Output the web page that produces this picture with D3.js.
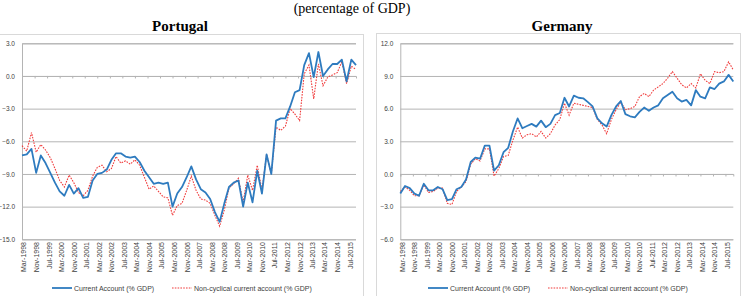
<!DOCTYPE html>
<html>
<head>
<meta charset="utf-8">
<script src="https://cdn.jsdelivr.net/npm/d3@7"></script>
<style>
  body { margin: 0; background: #fff; }
  svg { display: block; }
</style>
</head>
<body>
<svg id="chart" width="742" height="296"></svg>
<script>
// quarterly observations, Mar-1998 .. Dec-2015
var firstQuarter = new Date(1998, 2, 1),
  lastQuarter = new Date(2015, 11, 1);
var quarters = d3.timeMonth.range(firstQuarter, new Date(2016, 0, 1), 3);

// axis labels every 8 months, Mar-1998 .. Jul-2015
var xTicks = d3.timeMonth.range(firstQuarter, new Date(2015, 7, 1), 8);

var portugalTicks = [-15, -12, -9, -6, -3, 0, 3];
var germanyTicks = [-6, -3, 0, 3, 6, 9, 12];

var seriesNames = ["Current Account (% GDP)", "Non-cyclical current account  (% GDP)"];

var portugalCA = [
  -7.3, -7.2, -6.7, -8.9, -7.3, -8.0, -8.9, -9.8, -10.6, -11.0,
  -10.0, -10.8, -10.3, -11.2, -11.1, -9.6, -9.0, -8.9, -8.6, -7.7,
  -7.1, -7.1, -7.4, -7.5, -7.4, -7.9, -8.7, -9.3, -9.9, -9.8,
  -9.9, -9.8, -12.0, -10.8, -10.2, -9.3, -8.3, -9.5, -10.4, -10.7,
  -11.3, -12.5, -13.4, -11.7, -10.2, -9.8, -9.6, -12.0, -9.8, -11.6,
  -8.7, -10.8, -7.2, -9.0, -4.1, -3.9, -3.9, -2.8, -1.5, -1.3,
  1.0, 2.1, -0.1, 2.2, 0.0, 0.6, 1.1, 1.1, 1.5, -0.5,
  1.5, 1.0
];
var portugalNC = [
  -6.4, -6.9, -5.2, -7.0, -6.3, -6.8, -7.5, -8.5, -9.6, -10.2,
  -9.1, -9.8, -10.7, -11.0, -10.5, -9.2, -8.4, -8.2, -8.8, -8.5,
  -7.4, -8.0, -7.8, -8.1, -7.7, -8.2, -9.3, -10.4, -10.1, -10.6,
  -11.1, -11.2, -12.8, -11.9, -11.7, -10.5, -9.2, -10.5, -11.3, -11.4,
  -11.7, -12.8, -13.8, -12.3, -10.3, -9.9, -9.4, -11.6, -9.1, -10.5,
  -8.2, -10.5, -7.2, -9.0, -4.7, -5.0, -4.6, -3.0, -3.5, -4.1,
  0.2, 1.0, -2.1, 1.1, -0.9, -0.1, 0.1, 0.3, 1.3, -0.7,
  0.9, 0.6
];
var germanyCA = [
  -1.8, -1.1, -1.3, -1.8, -2.0, -0.9, -1.5, -1.5, -1.2, -1.4,
  -2.4, -2.3, -1.4, -1.2, -0.5, 1.1, 1.5, 1.4, 2.6, 2.6,
  0.3, 0.8, 2.0, 2.4, 3.9, 5.1, 4.2, 4.4, 4.6, 4.35,
  4.9, 4.3, 4.6, 5.4, 5.6, 7.0, 6.2, 7.2, 7.0, 6.95,
  6.6, 6.2, 5.1, 4.65, 4.35, 5.4, 6.2, 6.7, 5.5, 5.3,
  5.2, 5.7, 6.1, 5.8, 6.1, 6.3, 6.95, 7.25, 7.55, 6.95,
  6.65, 6.8, 6.3, 7.7, 7.1, 6.95, 7.95, 7.8, 8.3, 8.5,
  9.1, 8.5
];
var germanyNC = [
  -1.6, -1.2, -1.5, -2.0, -2.0, -1.0, -1.7, -1.6, -1.3, -1.3,
  -2.7, -2.8, -1.6, -1.2, -0.7, 0.9, 1.4, 1.2, 2.3, 2.3,
  -0.2, 0.5, 1.6, 1.7, 3.1, 4.3, 3.3, 3.6, 3.7, 3.4,
  3.9, 3.3, 3.7, 4.5, 5.0, 6.5, 5.4, 6.5, 6.4, 6.3,
  6.2, 6.1, 5.0, 4.5, 3.7, 5.0, 5.9, 6.6, 5.9, 6.0,
  6.2, 7.1, 7.4, 7.1, 7.7, 8.0, 8.3, 8.8, 9.4, 8.8,
  8.2, 7.9, 8.3, 7.9, 9.2, 8.6, 8.3, 9.4, 9.3, 9.4,
  10.3, 9.55
];

var blue = "#2e7bbf", red = "#f03c3c", grid = "#b4b4b4", frame = "#d9d9d9", ink = "#404040";
var tickFont = "Liberation Sans, Arial, sans-serif";

var svg = d3.select("#chart");

svg.append("text")
  .attr("x", 352).attr("y", 13)
  .attr("text-anchor", "middle")
  .style("font", "14px 'Liberation Serif', 'Times New Roman', serif")
  .text("(percentage of GDP)");

function drawPanel(p) {
  var g = svg.append("g");

  // chart area frame
  g.append("rect")
    .attr("x", p.frame[0] + 0.5).attr("y", p.frame[1] + 0.5)
    .attr("width", p.frame[2]).attr("height", 300)
    .attr("fill", "#fff").attr("stroke", frame);

  g.append("text")
    .attr("x", p.titleX).attr("y", 31)
    .attr("text-anchor", "middle")
    .style("font", "bold 15px 'Liberation Serif', 'Times New Roman', serif")
    .text(p.title);

  var x = d3.scaleTime().domain([firstQuarter, lastQuarter]).range([p.left, p.right]);
  var y = d3.scaleLinear().domain([p.ticks[0], p.ticks[p.ticks.length - 1]]).range([239.3, 43.3]);

  // gridlines + y labels
  var yAxis = d3.axisLeft(y).tickValues(p.ticks).tickFormat(d3.format(".1f"))
    .tickSize(-(p.right - p.left)).tickPadding(7);
  g.append("g")
    .attr("transform", "translate(" + p.left + ",0)")
    .call(yAxis)
    .call(function (a) {
      a.select(".domain").attr("stroke", grid);
      a.selectAll(".tick line").attr("stroke", grid);
      a.selectAll(".tick text").attr("fill", ink)
        .style("font", "6.5px " + tickFont);
    });

  // x axis crossing at zero, labels at the bottom
  var xAxis = d3.axisBottom(x).tickValues(xTicks).tickFormat("").tickSize(2.5);
  g.append("g")
    .attr("transform", "translate(0," + y(0) + ")")
    .call(xAxis)
    .call(function (a) {
      a.select(".domain").attr("stroke", grid);
      a.selectAll(".tick line").attr("stroke", grid);
    });

  g.selectAll(".xlab")
    .data(xTicks)
    .join("text")
    .attr("class", "xlab")
    .attr("transform", function (d) { return "translate(" + (x(d) + 2) + ",242) rotate(-90)"; })
    .attr("dy", "0.35em")
    .attr("text-anchor", "end")
    .attr("fill", ink)
    .style("font", "7px " + tickFont)
    .text(d3.timeFormat("%b-%Y"));

  var line = d3.line()
    .x(function (d, i) { return x(quarters[i]); })
    .y(function (d) { return y(d); });

  g.append("path")
    .datum(p.nc)
    .attr("fill", "none").attr("stroke", red)
    .attr("stroke-width", 1.1).attr("stroke-dasharray", "1.6,1.2")
    .attr("d", line);

  g.append("path")
    .datum(p.ca)
    .attr("fill", "none").attr("stroke", blue)
    .attr("stroke-width", 1.8).attr("stroke-linejoin", "round")
    .attr("d", line);

  // legend
  var lg = g.append("g").attr("transform", "translate(" + p.legendX + ",288)");
  lg.append("line").attr("x1", 0).attr("x2", 20).attr("stroke", blue).attr("stroke-width", 1.8);
  lg.append("text").attr("x", 22).attr("y", 2.5).attr("fill", ink)
    .style("font", "7px " + tickFont).text(seriesNames[0]);
  lg.append("line").attr("x1", 120).attr("x2", 140).attr("stroke", red)
    .attr("stroke-width", 1.1).attr("stroke-dasharray", "1.6,1.2");
  lg.append("text").attr("x", 142).attr("y", 2.5).attr("fill", ink)
    .style("font", "7px " + tickFont).text(seriesNames[1]);
}

drawPanel({
  title: "Portugal", titleX: 180,
  frame: [-2, 34, 365], left: 22, right: 356,
  ticks: portugalTicks, ca: portugalCA, nc: portugalNC,
  legendX: 52
});

drawPanel({
  title: "Germany", titleX: 562,
  frame: [376, 33, 364], left: 400.3, right: 733.3,
  ticks: germanyTicks, ca: germanyCA, nc: germanyNC,
  legendX: 428
});
</script>
</body>
</html>
